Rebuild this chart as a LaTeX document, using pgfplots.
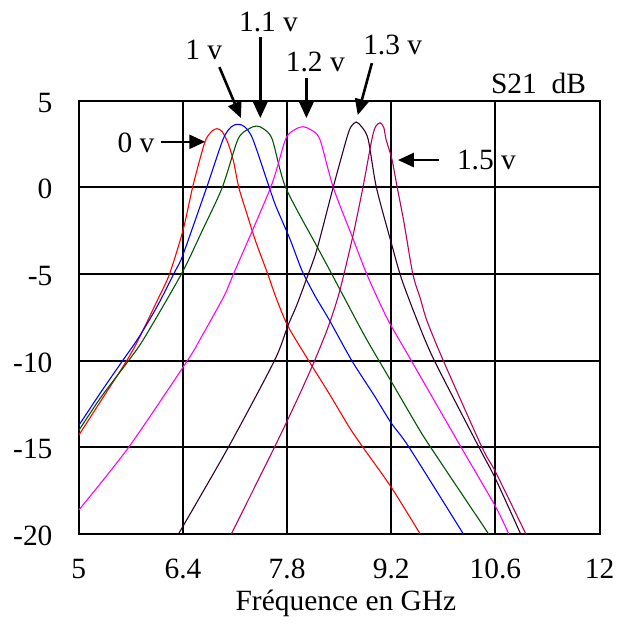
\documentclass[border=0pt]{standalone}
\usepackage{fontspec}
\setmainfont{Liberation Serif}
\usepackage{pgfplots}
\pgfplotsset{compat=1.18}
\usetikzlibrary{arrows.meta}

\definecolor{vgreen}{RGB}{0,85,0}
\definecolor{vpurple}{RGB}{50,0,45}
\definecolor{vmaroon}{RGB}{185,0,100}
\definecolor{vmagenta}{RGB}{255,0,255}

\begin{document}
\begin{tikzpicture}[font=\fontsize{14.75}{17}\selectfont,
  arr/.style={line width=1.3pt, -{Triangle[length=8pt,width=7pt]}}]
\begin{axis}[
    scale only axis,
    width=261pt, height=217.25pt,
    xmin=5, xmax=12, ymin=-20, ymax=5,
    xtick={5,6.4,7.8,9.2,10.6,12},
    xticklabels={\raisebox{2.5pt}{5},6.4,7.8,9.2,10.6,\raisebox{2.5pt}{12}},
    ytick={-20,-15,-10,-5,0,5},
    yticklabels={-20,-15,-10,-5,0,5},
    major tick length=0pt,
    grid=major,
    grid style={black, line width=1pt},
    axis line style={black, line width=1pt},
    xticklabel style={anchor=north, inner sep=0pt, yshift=-12.5pt},
    yticklabel style={anchor=east, inner sep=0pt, xshift=-13pt, yshift=-1pt},
    xlabel={Fréquence en GHz},
    xlabel style={at={(axis description cs:0.513,-0.16)}, anchor=center, inner sep=0pt},
    clip=false,
    every axis plot/.append style={line width=0.55pt, mark=none, smooth, tension=0.45},
]
% 0 v
\addplot[red] coordinates {
  (5.00,-14.3) (5.30,-12.3) (5.645,-10) (5.80,-8.8) (6.07,-6.4) (6.22,-5)
  (6.40,-2.5) (6.53,0) (6.64,1.8) (6.71,2.77) (6.79,3.24) (6.86,3.38)
  (6.93,3.2) (7.01,2.5) (7.08,1.5) (7.15,0) (7.25,-1.4) (7.38,-3.15)
  (7.54,-5) (7.65,-6.35) (7.81,-8.0) (8.09,-10) (8.38,-12) (8.63,-13.8)
  (8.82,-15) (9.20,-17.3) (9.59,-20)
};
% 1 v
\addplot[blue] coordinates {
  (5.00,-13.74) (5.30,-11.8) (5.59,-10) (5.80,-8.7) (6.05,-6.9) (6.30,-4.8)
  (6.40,-3.9) (6.72,0) (6.94,2.77) (7.05,3.49) (7.14,3.63) (7.23,3.49)
  (7.34,2.77) (7.56,0) (7.65,-1.1) (7.84,-3.0) (8.00,-4.8) (8.18,-6.3)
  (8.36,-7.6) (8.67,-10) (8.97,-12) (9.20,-13.6) (9.44,-15) (10.17,-20)
};
% 1.1 v
\addplot[vgreen] coordinates {
  (5.00,-14.03) (5.30,-12.1) (5.67,-10) (5.88,-8.7) (6.38,-5) (6.66,-2.5)
  (6.93,0) (7.14,2.77) (7.29,3.38) (7.39,3.53) (7.48,3.38) (7.60,2.77)
  (7.78,0) (8.20,-3.4) (8.40,-5) (8.84,-8.55) (9.20,-11.2)
  (9.54,-13.7) (9.73,-15) (10.51,-20)
};
% 1.2 v
\addplot[vmagenta] coordinates {
  (5.00,-18.62) (5.67,-15) (6.46,-10) (6.64,-8.7) (6.95,-6.3) (7.08,-5)
  (7.58,0) (7.78,2.77) (7.91,3.34) (8.01,3.49) (8.11,3.34) (8.24,2.77)
  (8.42,0) (8.68,-2.9) (8.88,-5.1) (9.15,-7.6) (9.47,-10) (10.14,-15)
  (10.60,-18.4) (10.78,-20)
};
% 1.3 v
\addplot[vpurple] coordinates {
  (6.34,-20) (7.01,-15) (7.63,-10) (7.81,-8.0) (7.93,-6.8) (8.06,-5.3)
  (8.20,-3.6) (8.42,0) (8.60,2.8) (8.66,3.5) (8.73,3.76) (8.80,3.5)
  (8.89,2.77) (9.00,0) (9.20,-3.2) (9.34,-5.3) (9.56,-7.8) (9.78,-10)
  (10.38,-15) (10.60,-16.8) (10.94,-20)
};
% 1.5 v
\addplot[vmaroon] coordinates {
  (7.05,-20) (7.63,-15) (7.93,-12.3) (8.15,-10.2) (8.34,-8.2)
  (8.50,-6.1) (8.68,-2.9) (8.82,0) (8.94,2.77) (8.99,3.5) (9.05,3.72)
  (9.10,3.45) (9.13,2.77) (9.21,1.6) (9.28,0) (9.37,-2) (9.49,-5)
  (9.59,-6.4) (9.68,-7.7) (9.90,-10) (10.42,-15) (10.60,-16.4) (11.01,-20)
};

% labels and arrows
\node at (axis cs:5.77,2.57) {0 v};
\draw[arr] (axis cs:6.10,2.62) -- (axis cs:6.70,2.62);
\node at (axis cs:6.68,7.91) {1 v};
\draw[arr] (axis cs:6.89,6.93) -- (axis cs:7.18,3.99);
\node at (axis cs:7.55,9.53) {1.1 v};
\draw[arr] (axis cs:7.44,8.66) -- (axis cs:7.44,3.99);
\node at (axis cs:8.18,7.22) {1.2 v};
\draw[arr] (axis cs:8.06,6.30) -- (axis cs:8.06,3.99);
\node at (axis cs:9.22,8.20) {1.3 v};
\draw[arr] (axis cs:8.94,7.16) -- (axis cs:8.75,4.16);
\node at (axis cs:10.48,1.57) {1.5 v};
\draw[arr] (axis cs:9.84,1.57) -- (axis cs:9.29,1.57);
\node at (axis cs:11.18,6.0) {S21~~dB};

\coordinate (bl) at (axis cs:3.941,-25.19);
\coordinate (tr) at (axis cs:12.225,10.80);
\end{axis}
\pgfresetboundingbox
\path (bl) rectangle (tr);
\end{tikzpicture}
\end{document}
